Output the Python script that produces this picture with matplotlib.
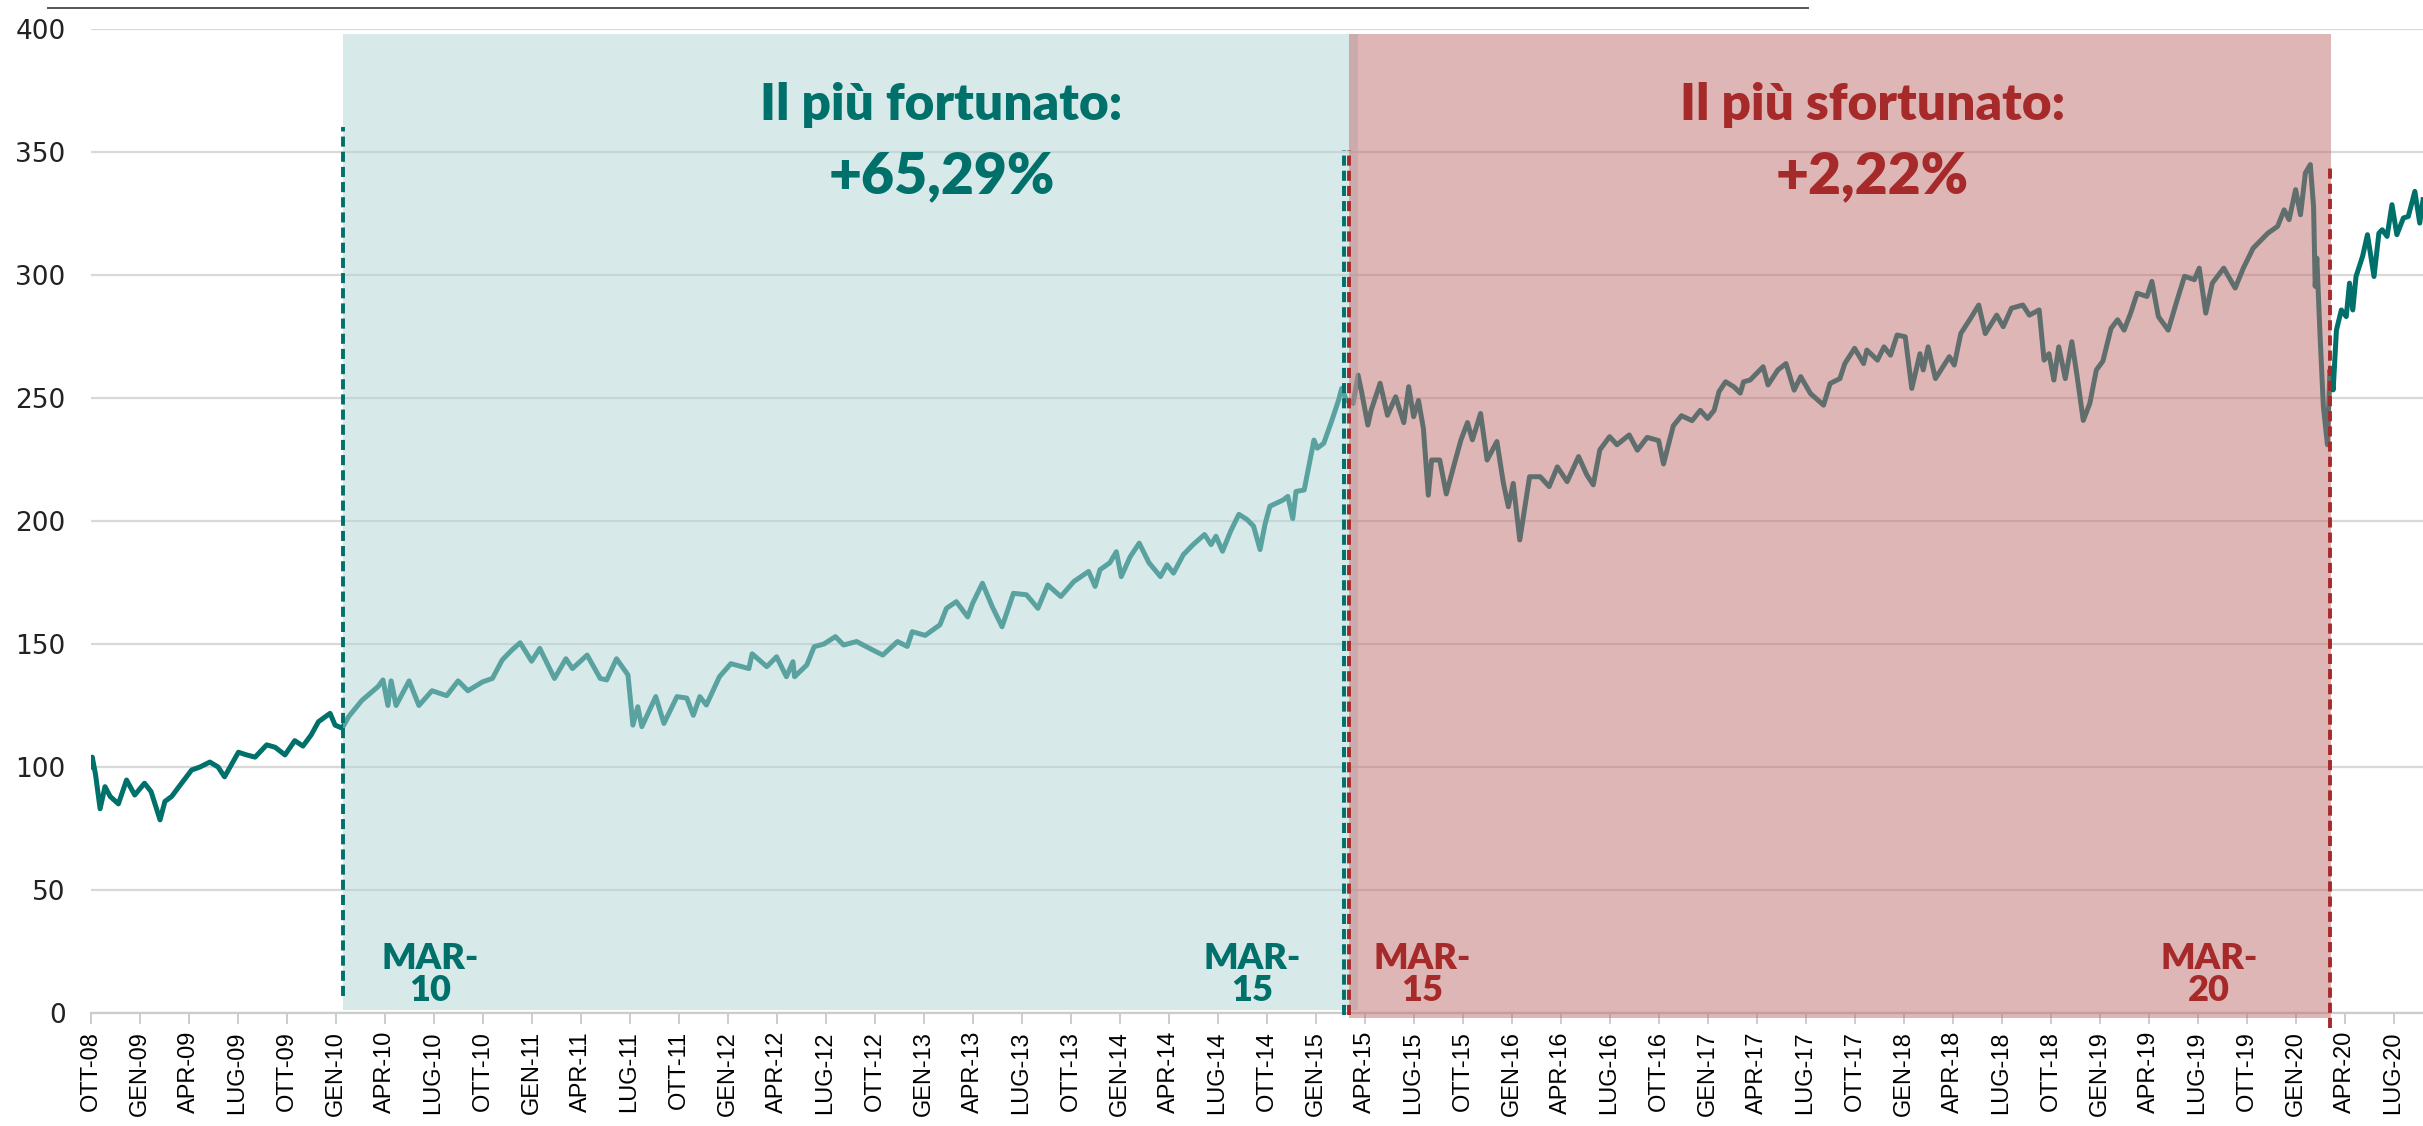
import matplotlib
matplotlib.use("Agg")
import matplotlib.pyplot as plt
from matplotlib.patches import Rectangle
from matplotlib.lines import Line2D

# x = months since Oct 2008, y = index value
months = [
    0.0, 0.1, 0.3, 0.58, 0.88, 1.2, 1.7, 2.2, 2.7, 3.3, 3.7, 4.25, 4.55, 4.96, 5.57, 6.19, 6.7, 7.3, 7.8,
    8.2, 9.05, 9.5, 10.07, 10.78, 11.3, 11.9, 12.5, 13.0, 13.5, 13.95, 14.66, 14.97, 15.4,
    15.8, 16.6, 17.6, 17.9, 18.2, 18.4, 18.7, 19.5, 20.1, 20.9, 21.8, 22.5, 23.1, 24.0, 24.6,
    25.2, 25.8, 26.3, 27.0, 27.5, 28.4, 29.1, 29.5, 30.4, 31.2, 31.6, 32.2, 32.9, 33.2, 33.5,
    33.75, 34.6, 35.1, 35.9, 36.5, 36.9, 37.3, 37.7, 38.5, 39.2, 40.3, 40.5, 41.4, 42.0, 42.6,
    43.0, 43.1, 43.85, 44.3, 44.9, 45.6, 46.1, 46.9, 47.9, 48.5, 49.4, 50.0, 50.3, 51.1, 52.0,
    52.4, 53.0, 53.7, 54.0, 54.6, 55.2, 55.8, 56.5, 57.3, 58.0, 58.6, 59.4, 60.2, 61.1, 61.5,
    61.8, 62.4, 62.8, 63.1, 63.65, 64.2, 64.8, 65.5, 65.9, 66.3, 66.9, 67.5, 68.2, 68.6, 68.9,
    69.3, 69.8, 70.3, 70.8, 71.2, 71.6, 71.9, 72.2, 73.0, 73.3, 73.6, 73.8, 74.3, 74.9, 75.1,
    75.5, 76.0, 76.4, 76.6, 76.9, 77.3, 77.6, 77.8, 78.2, 78.4, 78.95, 79.4, 79.9, 80.4, 80.7,
    81.0, 81.3, 81.6, 81.9, 82.1, 82.6, 83.0, 83.5, 83.9, 84.3, 84.6, 85.1, 85.5, 86.1, 86.5,
    86.8, 87.1, 87.5, 88.1, 88.75, 89.3, 89.8, 90.4, 91.1, 91.6, 92.0, 92.4, 93.0, 93.45, 94.2,
    94.7, 95.3, 96.0, 96.3, 96.9, 97.4, 98.05, 98.55, 99.0, 99.4, 99.7, 100.1, 100.6, 101.0,
    101.2, 101.6, 102.4, 102.7, 103.3, 103.8, 104.3, 104.7, 105.3, 106.1, 106.5, 107.1, 107.4,
    108.0, 108.55, 108.75, 109.4, 109.8, 110.2, 110.6, 111.1, 111.5, 112.0, 112.2, 112.5,
    112.95, 113.8, 114.1, 114.5, 115.1, 115.6, 116.0, 116.7, 117.1, 117.6, 118.3, 118.7, 119.3,
    119.6, 119.9, 120.2, 120.5, 120.9, 121.3, 121.6, 122.0, 122.4, 122.8, 123.2, 123.7, 124.1,
    124.5, 124.9, 125.3, 125.9, 126.2, 126.6, 127.2, 127.75, 128.2, 128.8, 129.1, 129.5, 129.9,
    130.6, 131.3, 131.8, 132.4, 133.3, 133.9, 134.3, 134.6, 135.0, 135.3, 135.6, 135.9, 136.1,
    136.2, 136.3, 136.5, 136.7, 136.95, 137.1, 137.3, 137.5, 137.8, 138.1, 138.3, 138.5, 138.7,
    139.1, 139.4, 139.8, 140.1, 140.3, 140.6, 140.9, 141.2, 141.6, 141.9, 142.3, 142.6, 142.8,
]
values = [
    100, 104, 97, 83, 92, 88, 85, 94.7, 88.6, 93.4, 90, 78.5, 86, 88, 93.4, 98.8, 100, 102, 100,
    96, 106, 105, 104, 109, 108, 104.9, 110.7, 108.5, 113, 118.4, 121.8, 117, 115.8,
    120.5, 127, 132.7, 135.4, 125, 135, 125, 135, 125, 131, 129, 135, 131, 134.6, 136,
    143.5, 147.6, 150.5, 143, 148.2, 136, 144, 140, 145.5, 136, 135.4, 144, 137.4, 117, 124.5,
    116.4, 128.6, 117.7, 128.6, 128, 121, 128.6, 125.2, 136.7, 142, 140, 146, 140.8, 144.8, 136.7,
    142.8, 136.7, 141.5, 148.9, 150, 153, 149.6, 151, 147.5, 145.5, 151, 149, 155, 153.5, 157.8,
    164.5, 167.2, 161, 166.5, 174.7, 165.2, 157, 170.6, 170, 164.5, 174, 169.3, 175.4, 179.5, 173.4,
    180.2, 183, 187.5, 177.4, 185.5, 191, 183, 177.4, 182.2, 178.8, 186.3, 190.4, 194.5, 190.4, 193.8,
    187.7, 195.9, 202.7, 200.6, 197.9, 188.4, 198.6, 206, 208.5, 210, 201, 212, 212.6, 232.9, 229.6,
    231.6, 241, 249, 253.9, 249, 247.8, 259.3, 253, 239, 245, 256, 243, 250.5, 240, 254.6,
    242.4, 249, 237.6, 210.5, 224.8, 224.8, 211, 223.4, 233, 240, 233, 243.7, 224.8, 232.3, 215.3,
    205.8, 215.3, 192.3, 218, 218, 214, 222, 216, 226.2, 218.8, 214.7, 228.9, 234.3, 231, 235,
    228.8, 234, 232.7, 223.2, 238.7, 242.8, 240.8, 245, 241.7, 245, 252.6, 256.6, 254.6, 252,
    256.6, 257.3, 262.7, 255.3, 261.4, 264, 253.2, 258.7, 251.8, 247.1, 255.9, 257.9, 264,
    270.2, 264, 269.5, 265.4, 270.8, 267.4, 275.6, 274.9, 253.9, 268, 261.4, 270.8,
    257.9, 266.8, 263.4, 276.2, 282.4, 287.8, 276.2, 283.7, 279, 286.5, 287.8, 283.7, 285.8,
    265.4, 268, 257.3, 270.8, 257.9, 272.9, 259.9, 240.9, 247.8, 261.4, 265, 278.3, 281.8,
    277.6, 284.5, 292.6, 291.3, 297.4, 283.1, 277.6, 289.9, 299.5, 298.1, 302.8, 284.5, 296.7,
    302.8, 294.7, 302.8, 310.9, 317, 319.8, 326.5, 322.5, 334.7, 324.5, 341.5, 344.9, 327.8,
    295.4, 306.9, 275, 246.6, 231, 261.4, 253.3, 277.6, 285.8, 283.1, 296.7, 285.8, 299.4,
    307.6, 316.4, 299.4, 317, 318.4, 315.7, 328.6, 316.4, 323.2, 323.8, 334, 321.1, 330.6,
]

tick_labels = []
for yr in range(8, 21):
    for mon in ["GEN", "APR", "LUG", "OTT"]:
        tick_labels.append(f"{mon}-{yr:02d}")
tick_labels = tick_labels[3:3 + 48]   # OTT-08 ... LUG-20
tick_pos = list(range(0, 3 * len(tick_labels), 3))

# the two 5-year windows
lucky_span = (15.45, 77.6)
unlucky_span = (77.04, 137.15)
lucky_title = "Il più fortunato:"
lucky_perf = "+65,29%"
unlucky_title = "Il più sfortunato:"
unlucky_perf = "+2,22%"

TEAL = "#00706b"
RED = "#a62a2a"

fig = plt.figure(figsize=(24.23, 11.26), dpi=100)
ax = fig.add_axes([0.0374, 0.1004, 0.9626, 0.8738])

ax.plot(months, values, color=TEAL, lw=3.6, zorder=3, solid_joinstyle="round")

# translucent overlays drawn above the line
ax.add_patch(Rectangle((lucky_span[0], 1), lucky_span[1] - lucky_span[0], 397,
                       facecolor=(179/255, 213/255, 213/255), alpha=0.5, lw=0, zorder=4))
ax.add_patch(Rectangle((unlucky_span[0], -2), unlucky_span[1] - unlucky_span[0], 400,
                       facecolor=(192/255, 111/255, 111/255), alpha=0.5, lw=0, zorder=5,
                       clip_on=False))

dash = dict(lw=2.8, dashes=(2.6, 1.3), zorder=6, clip_on=False)
ax.plot([lucky_span[0]] * 2, [7, 360], color=TEAL, **dash)
ax.plot([76.75] * 2, [-1, 351], color=TEAL, **dash)
ax.plot([unlucky_span[0]] * 2, [-1, 351], color=RED, **dash)
ax.plot([137.1] * 2, [-6, 345], color=RED, **dash)

bold = dict(fontfamily=["Lato", "DejaVu Sans"], fontweight="heavy", ha="center", va="center", zorder=7)
ax.text(52.1, 369, lucky_title, color=TEAL, fontsize=37, **bold)
ax.text(52.1, 340, lucky_perf, color=TEAL, fontsize=41, **bold)
ax.text(109.1, 369, unlucky_title, color=RED, fontsize=37, **bold)
ax.text(109.1, 340, unlucky_perf, color=RED, fontsize=41, **bold)

mar = dict(fontsize=26, linespacing=0.97, **bold)
ax.text(20.8, 15.5, "MAR-\n10", color=TEAL, **mar)
ax.text(71.1, 15.5, "MAR-\n15", color=TEAL, **mar)
ax.text(81.5, 15.5, "MAR-\n15", color=RED, **mar)
ax.text(129.7, 15.5, "MAR-\n20", color=RED, **mar)

ax.set_xlim(0, 142.8)
ax.set_ylim(0, 400)
ax.set_yticks(range(0, 401, 50))
ax.set_xticks(tick_pos)
ax.set_xticklabels(tick_labels, rotation=90, fontsize=17,
                   fontfamily=["Liberation Sans", "DejaVu Sans"])
for lab in ax.get_yticklabels():
    lab.set_fontsize(19)
    lab.set_color("#222222")
ax.grid(axis="y", color="#d9d9d9", lw=1.6, zorder=1)
ax.set_axisbelow(True)
for s in ["top", "right", "left"]:
    ax.spines[s].set_visible(False)
ax.spines["bottom"].set_color("#cccccc")
ax.spines["bottom"].set_linewidth(1.6)
ax.tick_params(axis="x", length=8, width=1.4, color="#cccccc", pad=5)
ax.tick_params(axis="y", length=0, pad=18)

fig.add_artist(Line2D([0.02, 0.746], [0.993, 0.993], color="#555555", lw=1.4))

fig.savefig("out.png", dpi=100)
